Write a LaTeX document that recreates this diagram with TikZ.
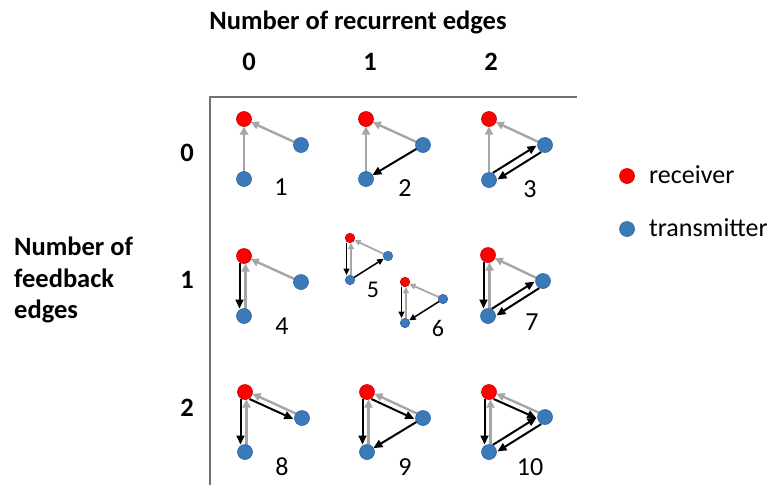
\documentclass[tikz,border=0pt]{standalone}
\usepackage{fontspec}
\setmainfont{Carlito}
\usetikzlibrary{calc,arrows.meta}
\definecolor{recred}{HTML}{FF0000}
\definecolor{recedge}{HTML}{C00000}
\definecolor{trblue}{HTML}{3A7AB8}
\definecolor{trblueedge}{HTML}{2F66A0}
\definecolor{edgegray}{HTML}{A6A6A6}
\definecolor{axisgray}{HTML}{707070}
\pgfdeclarelayer{bg}
\pgfsetlayers{bg,main}
\newcommand\mknet[5]{%
  \node[rec,#5] (#1r) at (#2) {};
  \node[tra,#5] (#1t) at (#3) {};
  \node[tra,#5] (#1b) at (#4) {};}
\newcommand\redge[4]{\draw[#1] ($(#2)!#4!-90:(#3)$) -- ($(#3)!#4!90:(#2)$);}
\newcommand\ledge[4]{\draw[#1] ($(#2)!#4!90:(#3)$) -- ($(#3)!#4!-90:(#2)$);}
\newcommand\cedge[3]{\draw[#1] (#2.center) -- (#3.center);}
\begin{document}
\begin{tikzpicture}[x=1pt,y=-1pt,
  rec/.style={circle,fill=recred,draw=recedge,line width=0.6pt,inner sep=0pt,minimum size=15pt},
  tra/.style={circle,fill=trblue,draw=trblueedge,line width=0.6pt,inner sep=0pt,minimum size=15pt},
  smalldot/.style={minimum size=9.5pt},
  gr/.style={draw=edgegray,line width=2.4pt,-{Triangle[length=8pt,width=8pt]},shorten <=7pt,shorten >=7.5pt},
  bk/.style={draw=black,line width=2pt,-{Triangle[length=9pt,width=8pt]},shorten <=7pt,shorten >=7.5pt},
  grs/.style={draw=edgegray,line width=1.7pt,-{Triangle[length=6pt,width=6pt]},shorten <=4.5pt,shorten >=5pt},
  bks/.style={draw=black,line width=1.5pt,-{Triangle[length=6.5pt,width=6pt]},shorten <=4.5pt,shorten >=5pt},
  head/.style={font=\bfseries\fontsize{26.5}{30}\selectfont,inner sep=0pt},
  num/.style={font=\fontsize{26}{30}\selectfont,inner sep=0pt},
  nums/.style={font=\fontsize{24}{28}\selectfont,inner sep=0pt},
  leg/.style={font=\fontsize{26}{30}\selectfont,inner sep=0pt,anchor=west},
  axis/.style={draw=axisgray,line width=1.2pt}]
\useasboundingbox (0,0) rectangle (771,485);
% headings
\node[head] (title) at (358,22) {Number of recurrent edges};
\node[head] (c0) at (249,62) {0};
\node[head] (c1) at (370,62) {1};
\node[head] (c2) at (491,62) {2};
\node[head] (r0) at (187,153) {0};
\node[head] (r1) at (187,280) {1};
\node[head] (r2) at (187,408) {2};
\node[head,anchor=west] (fb1) at (14,246) {Number of};
\node[head,anchor=west] (fb2) at (14,278) {feedback};
\node[head,anchor=west] (fb3) at (14,311) {edges};
% axes
\coordinate (ax0) at (210,485);
\coordinate (ax1) at (210,97);
\coordinate (ax2) at (577,97);
\draw[axis] (ax0) -- (ax1) -- (ax2);
% legend
\node[rec] (lr) at (627,176) {};
\node[leg] (lrt) at (649,175) {receiver};
\node[tra] (lt) at (627,229) {};
\node[leg] (ltt) at (649,228) {transmitter};
% networks
\mknet{a}{244,119}{301,145}{244,179}{}
\mknet{b}{366,119}{423,145}{366,179}{}
\mknet{c}{489,119}{545,145}{489,180}{}
\mknet{d}{244,256}{301,282}{244,316}{}
\mknet{e}{350,238}{388,256}{350,280}{smalldot}
\mknet{f}{405,282}{443,299}{405,323}{smalldot}
\mknet{g}{488,255}{543,281}{488,316}{}
\mknet{h}{245,392}{302,418}{245,452}{}
\mknet{i}{367,392}{423,418}{367,452}{}
\mknet{j}{489,392}{545,417}{489,452}{}
% labels
\node[num] (la) at (281,187) {1};
\node[num] (lb) at (405,188) {2};
\node[num] (lc) at (530,189) {3};
\node[num] (ld) at (282,326) {4};
\node[nums] (le) at (373,290) {5};
\node[nums] (lf) at (438,328) {6};
\node[num] (lg) at (532,322) {7};
\node[num] (lh) at (282,467) {8};
\node[num] (li) at (405,467) {9};
\node[num] (lj) at (530,467) {10};
\begin{pgfonlayer}{bg}
% 1
\cedge{gr}{ab}{ar}
\cedge{gr}{at}{ar}
% 2
\cedge{gr}{bb}{br}
\cedge{gr}{bt}{br}
\cedge{bk}{bt}{bb}
% 3
\cedge{gr}{cb}{cr}
\cedge{gr}{ct}{cr}
\ledge{bk}{cb}{ct}{4pt}
\ledge{bk}{ct}{cb}{4pt}
% 4
\redge{gr}{db}{dr}{1.5pt}
\redge{bk}{dr}{db}{4.5pt}
\cedge{gr}{dt}{dr}
% 5
\redge{grs}{eb}{er}{1pt}
\redge{bks}{er}{eb}{3.5pt}
\cedge{grs}{et}{er}
\cedge{bks}{eb}{et}
% 6
\redge{grs}{fb}{fr}{1pt}
\redge{bks}{fr}{fb}{3.5pt}
\cedge{grs}{ft}{fr}
\cedge{bks}{ft}{fb}
% 7
\redge{gr}{gb}{gr}{1.5pt}
\redge{bk}{gr}{gb}{4.5pt}
\cedge{gr}{gt}{gr}
\ledge{bk}{gb}{gt}{4pt}
\ledge{bk}{gt}{gb}{4pt}
% 8
\redge{gr}{hb}{hr}{1.5pt}
\redge{bk}{hr}{hb}{4.5pt}
\redge{gr}{ht}{hr}{1.5pt}
\redge{bk}{hr}{ht}{4.5pt}
% 9
\redge{gr}{ib}{ir}{1.5pt}
\redge{bk}{ir}{ib}{4.5pt}
\redge{gr}{it}{ir}{1.5pt}
\redge{bk}{ir}{it}{4.5pt}
\cedge{bk}{it}{ib}
% 10
\redge{gr}{jb}{jr}{1.5pt}
\redge{bk}{jr}{jb}{4.5pt}
\redge{gr}{jt}{jr}{1.5pt}
\redge{bk}{jr}{jt}{4.5pt}
\ledge{bk}{jb}{jt}{4pt}
\ledge{bk}{jt}{jb}{4pt}
\end{pgfonlayer}
\end{tikzpicture}
\end{document}
